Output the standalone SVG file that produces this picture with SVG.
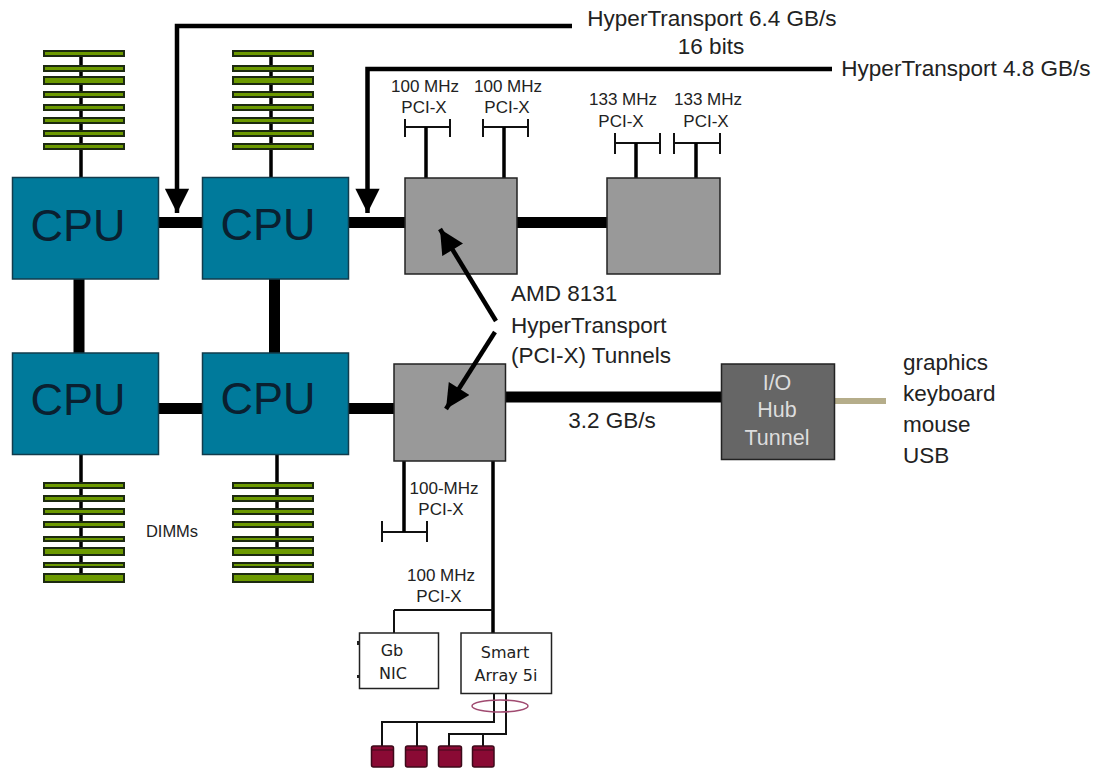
<svg xmlns="http://www.w3.org/2000/svg" width="1103" height="769" viewBox="0 0 1103 769">
<style>
text{font-family:"Liberation Sans",Arial,sans-serif;fill:#222;text-anchor:middle}
.l{font-size:22.5px}.s{font-size:17px}.c{font-size:45px;fill:#0a2030}
.st{text-anchor:start}
.w{font-size:21.5px;fill:#ddd}
.r{font-family:"DejaVu Sans",sans-serif;font-size:16px}
.cpu{fill:#007a9b;stroke:#123c4c;stroke-width:1.5}
.tun{fill:#999;stroke:#222;stroke-width:1.5}
.dimm{fill:#6c9a00;stroke:#1c2a10;stroke-width:2}
.bus{stroke:#000;stroke-width:11;fill:none}
.arr{stroke:#000;stroke-width:4.5;fill:none}
.thin{stroke:#111;stroke-width:2;fill:none}
.med{stroke:#000;stroke-width:3.5;fill:none}
.box{fill:#fff;stroke:#222;stroke-width:1.5}
.disk{fill:#8a0a34;stroke:#3c0a1a;stroke-width:1.5}
</style>
<defs>
<marker id="ah" viewBox="0 0 10 10" refX="10" refY="5" markerWidth="5.6" markerHeight="5.4" orient="auto"><path d="M0 0L10 5L0 10z" fill="#000"/></marker>
<g id="stack">
<rect class="dimm" width="80" height="5" y="1"/><rect class="dimm" width="80" height="5" y="14"/><rect class="dimm" width="80" height="5" y="27"/><rect class="dimm" width="80" height="5" y="40"/><rect class="dimm" width="80" height="4" y="55" fill="#5c8a10"/><rect class="dimm" width="80" height="7" y="66"/><rect class="dimm" width="80" height="4" y="81"/><rect class="dimm" width="80" height="8" y="92"/>
</g>
<g id="stackT">
<rect class="dimm" width="80" height="5" y="1"/><rect class="dimm" width="80" height="5" y="16"/><rect class="dimm" width="80" height="7" y="27"/><rect class="dimm" width="80" height="5" y="42"/><rect class="dimm" width="80" height="5" y="55"/><rect class="dimm" width="80" height="5" y="68"/><rect class="dimm" width="80" height="5" y="81"/><rect class="dimm" width="80" height="5" y="94"/>
</g>
</defs>
<rect width="1103" height="769" fill="#fff"/>
<g id="connectors-back">
<path class="med" d="M81 55V178M271 55V178M81 455V574M277 455V574"/>
<path class="bus" d="M159 222.500H203M349 222.500H405M517 222.500H607M159 408.500H203M349 408.500H394M505 397H722M79 279V353M274.500 279V353"/>
<path stroke="#b5ad8a" stroke-width="6" fill="none" d="M835 401H886"/>
<path class="thin" d="M405 127H450M405 119V137M450 119V137M483 127H528M483 119V137M528 119V137M615 143H660M615 133V154M660 133V154M674 143H720M674 133V154M720 133V154M382 532H427M382 521V542M427 521V542"/>
<path class="med" d="M426 127V178M504 127V178M636 143V178M696 143V178M404 461V532M493 461V633"/>
<path class="thin" d="M394 610H493M394 610V633"/>
<path class="thin" d="M494 693V722H382V746M417 722V746M506 693V734H449V746M483 734V746"/>
<ellipse cx="500" cy="706" rx="28" ry="6" fill="none" stroke="#a04a70" stroke-width="1.500"/>
<path d="M358 641V645M358 675V678" stroke="#222" stroke-width="2"/>
</g>
<g id="dimms-tl"><use href="#stackT" x="44" y="50"/></g>
<g id="dimms-tr"><use href="#stackT" x="233" y="50"/></g>
<g id="dimms-bl"><use href="#stack" x="44" y="482"/></g>
<g id="dimms-br"><use href="#stack" x="233" y="482"/></g>
<g id="cpu1"><rect class="cpu" x="12.500" y="177.500" width="146" height="101.500"/><text class="c" x="78" y="241">CPU</text></g>
<g id="cpu2"><rect class="cpu" x="202.500" y="177.500" width="146" height="101.500"/><text class="c" x="268" y="240">CPU</text></g>
<g id="cpu3"><rect class="cpu" x="12.500" y="353" width="146" height="101.500"/><text class="c" x="78" y="415">CPU</text></g>
<g id="cpu4"><rect class="cpu" x="202.500" y="353" width="146" height="101.500"/><text class="c" x="268" y="414">CPU</text></g>
<g id="tunnel1"><rect class="tun" x="405" y="178" width="112" height="96"/></g>
<g id="tunnel2"><rect class="tun" x="607" y="178" width="113" height="96"/></g>
<g id="tunnel3"><rect class="tun" x="394" y="364" width="111.500" height="97"/></g>
<g id="iohub"><rect x="721.500" y="364" width="113" height="95.500" fill="#666" stroke="#222" stroke-width="1.500"/><text class="w" x="777" y="390">I/O</text><text class="w" x="777" y="417">Hub</text><text class="w" x="777" y="445">Tunnel</text></g>
<g id="nic"><rect class="box" x="359.500" y="633" width="79" height="55.500"/><text class="r" x="392" y="656">Gb</text><text class="r" x="393" y="679">NIC</text></g>
<g id="array"><rect class="box" x="461" y="633" width="90.500" height="60.500"/><text class="r" x="505" y="658">Smart</text><text class="r" x="506" y="681">Array 5i</text></g>
<g id="disks"><rect class="disk" x="371.500" y="746" width="22" height="21" rx="2"/><rect class="disk" x="405.500" y="746" width="21.500" height="21" rx="2"/><rect class="disk" x="438.500" y="746" width="23" height="21" rx="2"/><rect class="disk" x="472.500" y="746" width="21.500" height="21" rx="2"/><path d="M371 750H394M405 750H427M438 750H462M472 750H494" stroke="#3c0a1a" stroke-width="1"/></g>
<g id="arrows">
<path class="arr" marker-end="url(#ah)" d="M572 26H177V213"/>
<path class="arr" marker-end="url(#ah)" d="M832 69H367.500V213"/>
<path class="arr" marker-end="url(#ah)" d="M496 321L440 229"/>
<path class="arr" marker-end="url(#ah)" d="M495 332L446 409"/>
</g>
<g id="labels">
<text class="l" x="712" y="26">HyperTransport 6.4 GB/s</text><text class="l" x="711" y="54">16 bits</text>
<text class="l" x="966" y="76">HyperTransport 4.8 GB/s</text>
<text class="s" x="425" y="92">100 MHz</text><text class="s" x="424" y="113">PCI-X</text>
<text class="s" x="508" y="92">100 MHz</text><text class="s" x="507" y="113">PCI-X</text>
<text class="s" x="623" y="105">133 MHz</text><text class="s" x="621" y="127">PCI-X</text>
<text class="s" x="708" y="105">133 MHz</text><text class="s" x="706" y="127">PCI-X</text>
<text class="l st" x="511" y="301">AMD 8131</text>
<text class="l st" x="511" y="333">HyperTransport</text>
<text class="l st" x="511" y="363">(PCI-X) Tunnels</text>
<text class="l" x="612" y="428">3.2 GB/s</text>
<text class="l st" x="903" y="370">graphics</text>
<text class="l st" x="903" y="401">keyboard</text>
<text class="l st" x="903" y="432">mouse</text>
<text class="l st" x="903" y="463">USB</text>
<text class="s" x="172" y="537" style="font-size:16.500px">DIMMs</text>
<text class="s" x="444" y="494">100-MHz</text><text class="s" x="441" y="515">PCI-X</text>
<text class="s" x="441" y="581">100 MHz</text><text class="s" x="439" y="602">PCI-X</text>
</g>
</svg>
